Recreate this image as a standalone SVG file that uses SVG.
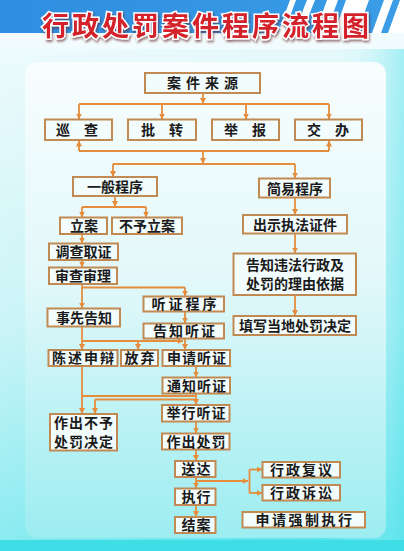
<svg xmlns="http://www.w3.org/2000/svg" width="404" height="551" viewBox="0 0 404 551">
<style>
.box rect{fill:#f3fcfc;stroke:#c08a52;stroke-width:2}
.box text{font-family:"Noto Sans CJK SC","Noto Sans",sans-serif;font-weight:bold;fill:#1a1a1a;text-anchor:middle;font-size:14px}
.conn path{fill:none;stroke:#e58d3c;stroke-width:1.8}
.arr{marker-end:url(#ah)}
</style>
<defs>
<linearGradient id="bg" x1="0" y1="0" x2="0" y2="1">
<stop offset="0" stop-color="#eefafc"/><stop offset="0.6" stop-color="#b4f0f4"/><stop offset="1" stop-color="#55e2ea"/>
</linearGradient>
<linearGradient id="bgx" x1="0" y1="0" x2="1" y2="0">
<stop offset="0" stop-color="#ffffff" stop-opacity="0.3"/><stop offset="0.8" stop-color="#ffffff" stop-opacity="0"/><stop offset="1" stop-color="#5fe4ee" stop-opacity="0.5"/>
</linearGradient>
<linearGradient id="panel" x1="0" y1="0" x2="0" y2="1">
<stop offset="0" stop-color="#f8fdfd"/><stop offset="0.45" stop-color="#e3f8fa"/><stop offset="1" stop-color="#9cedf1"/>
</linearGradient>
<linearGradient id="band" x1="0" y1="0" x2="1" y2="0">
<stop offset="0" stop-color="#2e8ee0"/><stop offset="1" stop-color="#3a9de6"/>
</linearGradient>
<filter id="sh" x="-5%" y="-20%" width="110%" height="150%">
<feDropShadow dx="1" dy="2" stdDeviation="1" flood-color="#5a2020" flood-opacity="0.6"/>
</filter>
<marker id="ah" markerWidth="6" markerHeight="6" refX="5.5" refY="3" orient="auto" markerUnits="userSpaceOnUse">
<path d="M0,0 L6,3 L0,6 Z" fill="#e58d3c"/>
</marker>
</defs>
<rect x="0" y="0" width="404" height="551" fill="url(#bg)"/>
<rect x="0" y="0" width="404" height="551" fill="url(#bgx)"/>
<rect x="0" y="540" width="404" height="11" fill="#3fdde6"/>
<rect x="0" y="0" width="404" height="33" fill="url(#band)"/>
<g fill="#ffffff">
<polygon points="278,33 284,33 296,0 290,0"/>
<polygon points="294,33 302,33 315,0 307,0"/>
<polygon points="315,33 326,33 338,0 327,0"/>
<polygon points="334,33 357,33 369,0 346,0"/>
<polygon points="372,33 381,33 393,0 384,0"/>
<polygon points="388,33 404,33 404,0 400,0"/>
</g>
<rect x="0" y="33" width="404" height="16" fill="#f2fbfd"/>
<rect x="25" y="62" width="361" height="476" rx="12" fill="url(#panel)"/>
<text x="207" y="36" font-family="'Noto Sans CJK SC',sans-serif" font-weight="bold" font-size="27" letter-spacing="3" text-anchor="middle" fill="#d4202a" stroke="#ffffff" stroke-width="3" paint-order="stroke" filter="url(#sh)">行政处罚案件程序流程图</text>

<g class="conn">
<path class="arr" d="M203,93.3 V103.5"/>
<path d="M79,104 H329"/>
<path class="arr" d="M79,104 V119"/>
<path class="arr" d="M162,104 V119"/>
<path class="arr" d="M246,104 V119"/>
<path class="arr" d="M329,104 V119"/>
<path class="arr" d="M79,151 V141"/>
<path class="arr" d="M329,151 V141"/>
<path d="M79,151 H329"/>
<path class="arr" d="M203,151 V163.5"/>
<path d="M113,164 H295"/>
<path class="arr" d="M113,164 V176.5"/>
<path class="arr" d="M295,164 V178"/>
<path class="arr" d="M115,196 V206.5"/>
<path d="M82,207 H146"/>
<path class="arr" d="M82,207 V217"/>
<path class="arr" d="M146,207 V217"/>
<path class="arr" d="M82,234 V243"/>
<path class="arr" d="M82,260 V267"/>
<path class="arr" d="M82,284 V308"/>
<path d="M82,287.5 H185"/>
<path class="arr" d="M185,287.5 V296"/>
<path class="arr" d="M185,311.5 V323"/>
<path class="arr" d="M295,197.3 V214.5"/>
<path class="arr" d="M295,233.3 V253"/>
<path class="arr" d="M295,295 V315.5"/>
<path class="arr" d="M82,326.5 V349.5"/>
<path class="arr" d="M82,341 H183"/>
<path class="arr" d="M138,341 V349.5"/>
<path class="arr" d="M185,338 V349.5"/>
<path class="arr" d="M196,366 V377"/>
<path class="arr" d="M196,394 V404.5"/>
<path class="arr" d="M82,366 V413.5"/>
<path d="M82,396 H196"/>
<path d="M95,399.5 H196"/>
<path class="arr" d="M95,399.5 V413.5"/>
<path class="arr" d="M196,421.5 V433"/>
<path class="arr" d="M196,449.5 V460.5"/>
<path class="arr" d="M196,477 V488"/>
<path class="arr" d="M196,481 H248"/>
<path d="M249.5,469.5 V493"/>
<path class="arr" d="M249.5,469.5 H262"/>
<path class="arr" d="M249.5,493 H262"/>
<path class="arr" d="M196,505 V516.5"/>
</g>

<g id="n-source" class="box"><rect x="145" y="73" width="115" height="20"/><text x="205" y="88" letter-spacing="5">案件来源</text></g>
<g id="n-xuncha" class="box"><rect x="45" y="119.5" width="67" height="20.5"/><text x="84" y="135" font-size="15" letter-spacing="14">巡查</text></g>
<g id="n-pizhuan" class="box"><rect x="128" y="119.5" width="68" height="20.5"/><text x="169" y="135" font-size="15" letter-spacing="14">批转</text></g>
<g id="n-jubao" class="box"><rect x="212" y="119.5" width="67" height="20.5"/><text x="252" y="135" font-size="15" letter-spacing="14">举报</text></g>
<g id="n-jiaoban" class="box"><rect x="295" y="119.5" width="67" height="20.5"/><text x="335" y="135" font-size="15" letter-spacing="14">交办</text></g>
<g id="n-general" class="box"><rect x="73" y="177" width="84" height="19"/><text x="115" y="192" font-size="16">一般程序</text></g>
<g id="n-simple" class="box"><rect x="259" y="178.5" width="71" height="19"/><text x="295" y="193.5" font-size="14.5">简易程序</text></g>
<g id="n-lian" class="box"><rect x="60" y="217.5" width="47" height="16.5"/><text x="84" y="231">立案</text></g>
<g id="n-buyulian" class="box"><rect x="112" y="217.5" width="70" height="16.5"/><text x="147" y="231">不予立案</text></g>
<g id="n-diaocha" class="box"><rect x="49" y="243.5" width="69" height="16.5"/><text x="83.5" y="257">调查取证</text></g>
<g id="n-shencha" class="box"><rect x="49" y="267.5" width="68" height="16.5"/><text x="83" y="281">审查审理</text></g>
<g id="n-tingzheng" class="box"><rect x="143.5" y="296.5" width="80.5" height="15"/><text x="185.5" y="309" font-size="13" letter-spacing="3">听证程序</text></g>
<g id="n-gaozhitz" class="box"><rect x="143.5" y="323.5" width="80.5" height="15"/><text x="185" y="336" font-size="13.5" letter-spacing="2">告知听证</text></g>
<g id="n-shixian" class="box"><rect x="47.5" y="308.5" width="72.5" height="18"/><text x="84" y="323">事先告知</text></g>
<g id="n-chenshu" class="box"><rect x="48.5" y="350" width="69" height="16"/><text x="84" y="363" font-size="13" letter-spacing="2">陈述申辩</text></g>
<g id="n-fangqi" class="box"><rect x="121" y="350" width="37" height="16"/><text x="140.5" y="363" font-size="13" letter-spacing="2">放弃</text></g>
<g id="n-shenqing" class="box"><rect x="162.5" y="350" width="67.5" height="16"/><text x="197" y="363" font-size="13.5" letter-spacing="1">申请听证</text></g>
<g id="n-tongzhi" class="box"><rect x="162.5" y="377.5" width="67.5" height="16"/><text x="197" y="390.5" font-size="13.5" letter-spacing="1">通知听证</text></g>
<g id="n-juxing" class="box"><rect x="162" y="405" width="67.5" height="16.5"/><text x="196.5" y="418" font-size="13.5" letter-spacing="1">举行听证</text></g>
<g id="n-buyuchufa" class="box"><rect x="50" y="414" width="67" height="36.5"/><text font-size="13" letter-spacing="1"><tspan x="84" y="428">作出不予</tspan><tspan x="84" y="447">处罚决定</tspan></text></g>
<g id="n-chufa" class="box"><rect x="162" y="433.5" width="67.5" height="16"/><text x="196.5" y="446.5" font-size="13.5" letter-spacing="1">作出处罚</text></g>
<g id="n-songda" class="box"><rect x="175" y="461" width="40.5" height="16"/><text x="196.5" y="474" font-size="13.5" letter-spacing="1">送达</text></g>
<g id="n-zhixing" class="box"><rect x="175" y="488.5" width="40.5" height="16.5"/><text x="196.5" y="501.5" font-size="13.5" letter-spacing="1">执行</text></g>
<g id="n-jiean" class="box"><rect x="175" y="517" width="40.5" height="16"/><text x="196.5" y="530" font-size="13.5" letter-spacing="1">结案</text></g>
<g id="n-chushi" class="box"><rect x="243" y="215" width="104" height="18.5"/><text x="295" y="229.5" font-size="15">出示执法证件</text></g>
<g id="n-gaozhiweifa" class="box"><rect x="233.5" y="253.5" width="122.5" height="41.5"/><text font-size="14.5"><tspan x="295" y="270">告知违法行政及</tspan><tspan x="295" y="289">处罚的理由依据</tspan></text></g>
<g id="n-tianxie" class="box"><rect x="233.5" y="316" width="122.5" height="19"/><text x="295" y="330.5" font-size="14">填写当地处罚决定</text></g>
<g id="n-fuyi" class="box"><rect x="262.5" y="462" width="77.5" height="15.5"/><text x="302" y="475" font-size="13" letter-spacing="2">行政复议</text></g>
<g id="n-susong" class="box"><rect x="262.5" y="485" width="77.5" height="15.5"/><text x="302" y="498" font-size="13" letter-spacing="2">行政诉讼</text></g>
<g id="n-qiangzhi" class="box"><rect x="242.5" y="512" width="122.5" height="15.5"/><text x="305" y="525" font-size="13" letter-spacing="2.5">申请强制执行</text></g>
</svg>
